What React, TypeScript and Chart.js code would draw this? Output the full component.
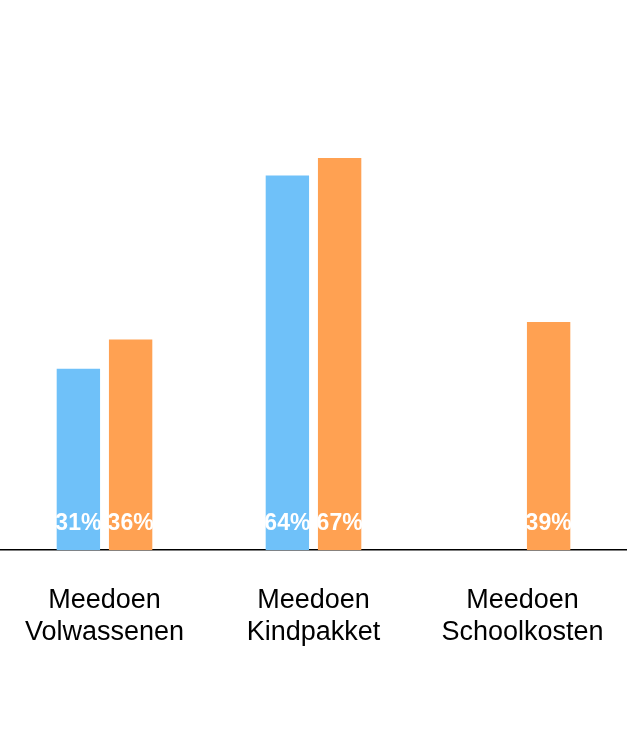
import React, { useEffect, useRef } from "react";
import { Chart, registerables } from "chart.js";

Chart.register(...registerables);

const categories: string[][] = [
  ["Meedoen", "Volwassenen"],
  ["Meedoen", "Kindpakket"],
  ["Meedoen", "Schoolkosten"],
];
const seriesA: (number | null)[] = [31, 64, null];
const seriesB: (number | null)[] = [36, 67, 39];
const seriesNames = ["Reeks 1", "Reeks 2"];
const colors = ["#6fc1f9", "#ffa152"];

const labelPlugin = {
  id: "barLabels",
  afterDatasetsDraw(chart: any) {
    const ctx = chart.ctx;
    ctx.save();
    ctx.fillStyle = "#ffffff";
    ctx.font = "bold 23px 'Liberation Sans', Arial, sans-serif";
    ctx.textAlign = "center";
    ctx.textBaseline = "middle";
    chart.data.datasets.forEach((ds: any, i: number) => {
      const meta = chart.getDatasetMeta(i);
      meta.data.forEach((bar: any, j: number) => {
        const v = ds.data[j];
        if (v === null || v === undefined) return;
        ctx.fillText(v + "%", bar.x, bar.base - 27);
      });
    });
    ctx.restore();
  },
};

export default function App() {
  const ref = useRef<HTMLCanvasElement>(null);
  useEffect(() => {
    if (!ref.current) return;
    const chart = new Chart(ref.current, {
      type: "bar",
      data: {
        labels: categories,
        datasets: [
          { label: seriesNames[0], data: seriesA, backgroundColor: colors[0] },
          { label: seriesNames[1], data: seriesB, backgroundColor: colors[1] },
        ],
      },
      options: {
        animation: false,
        responsive: false,
        maintainAspectRatio: false,
        layout: { padding: { left: 0, right: 0, top: 0, bottom: 88 } },
        datasets: {
          bar: { categoryPercentage: 0.5, barPercentage: 0.83 },
        },
        plugins: {
          legend: { display: false },
          tooltip: { enabled: false },
        },
        scales: {
          x: {
            grid: {
              display: true,
              drawOnChartArea: false,
              drawTicks: true,
              tickLength: 34,
              color: "rgba(0,0,0,0)",
            },
            border: { display: true, color: "#000000", width: 1.5 },
            ticks: {
              color: "#000000",
              padding: 0,
              maxRotation: 0,
              autoSkip: false,
              font: { family: "'Liberation Sans', Arial, sans-serif", size: 27, lineHeight: 1.2 },
            },
          },
          y: {
            display: false,
            min: 0,
            max: 94,
          },
        },
      },
      plugins: [labelPlugin],
    });
    return () => chart.destroy();
  }, []);
  return (
    <div style={{ position: "absolute", left: 0, top: 0, width: 627, height: 737, background: "#fff" }}>
      <canvas ref={ref} width={627} height={737} style={{ display: "block" }} />
    </div>
  );
}
